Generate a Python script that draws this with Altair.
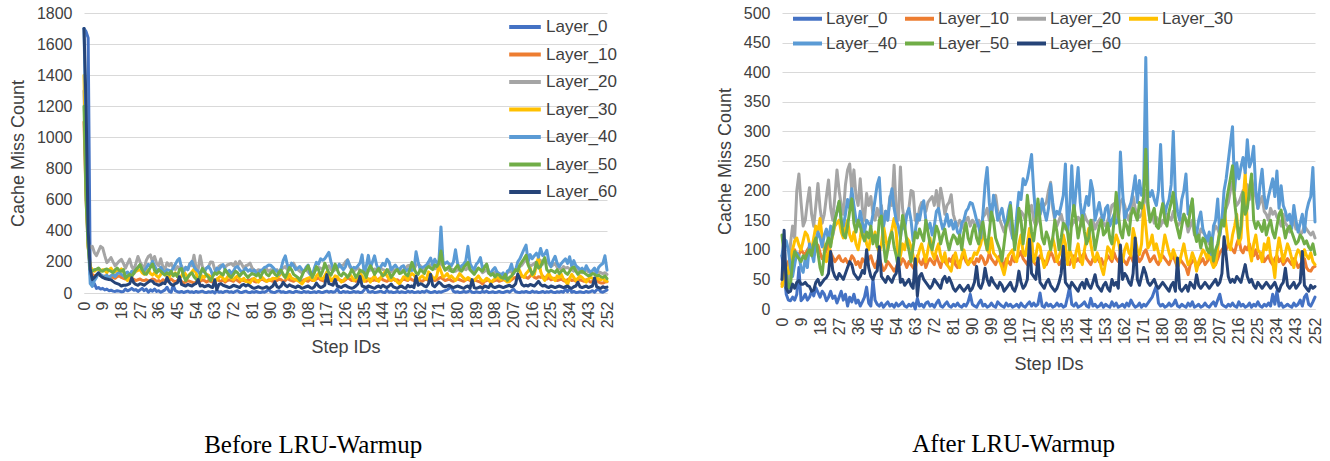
import altair as alt
import pandas as pd

STEPS = list(range(253))
LAYERS = ["Layer_0", "Layer_10", "Layer_20", "Layer_30", "Layer_40", "Layer_50", "Layer_60"]
COLORS = ["#4472C4", "#ED7D31", "#A5A5A5", "#FFC000", "#5B9BD5", "#70AD47", "#264478"]
X_TICKS = list(range(0, 253, 9))

# ---------- After LRU-Warmup (steps 0..252) ----------
L0_AFTER = [
    90, 60, 25, 15, 14, 20, 15, 25, 70, 14,
    18, 25, 15, 20, 30, 22, 36, 28, 20, 30,
    25, 14, 20, 30, 18, 22, 10, 20, 30, 15,
    25, 5, 20, 12, 25, 10, 15, 5, 12, 20,
    37, 10, 5, 50, 15, 8, 5, 10, 3, 8,
    12, 5, 8, 3, 10, 5, 8, 12, 5, 3,
    8, 5, 10, 0, 18, 5, 8, 3, 10, 12,
    5, 8, 3, 10, 15, 5, 3, 8, 12, 5,
    3, 8, 5, 10, 5, 3, 8, 5, 12, 25,
    8, 5, 3, 10, 15, 5, 8, 3, 5, 10,
    5, 3, 12, 8, 5, 3, 10, 5, 8, 3,
    5, 8, 3, 10, 5, 3, 8, 12, 5, 10,
    5, 8, 27, 5, 3, 10, 5, 8, 3, 5,
    10, 5, 8, 3, 5, 20, 37, 8, 5, 10,
    3, 5, 8, 12, 5, 3, 18, 5, 8, 3,
    5, 10, 3, 8, 5, 3, 12, 5, 10, 3,
    5, 8, 3, 10, 5, 15, 8, 3, 5, 10,
    3, 8, 5, 10, 15, 20, 30, 39, 10, 5,
    8, 3, 5, 10, 5, 8, 15, 5, 3, 8,
    5, 3, 10, 5, 12, 3, 5, 8, 3, 5,
    10, 5, 3, 8, 12, 5, 15, 25, 8, 5,
    3, 8, 5, 10, 5, 3, 12, 5, 8, 3,
    5, 10, 3, 8, 5, 12, 5, 3, 8, 5,
    10, 5, 25, 8, 30, 5, 10, 3, 5, 8,
    5, 3, 10, 5, 8, 15, 5, 20, 25, 8,
    5, 12, 20,
]
L10_AFTER = [
    42, 60, 70, 80, 85, 95, 100, 90, 92, 100,
    95, 92, 100, 105, 95, 90, 100, 108, 95, 85,
    90, 100, 110, 95, 88, 80, 85, 90, 82, 80,
    85, 78, 80, 90, 85, 75, 80, 70, 85, 80,
    75, 85, 90, 78, 70, 80, 85, 75, 65, 70,
    80, 75, 70, 64, 70, 80, 75, 85, 80, 70,
    80, 75, 70, 65, 90, 80, 75, 85, 70, 80,
    85, 80, 75, 90, 80, 70, 85, 80, 75, 85,
    80, 90, 75, 70, 80, 85, 90, 80, 75, 85,
    80, 75, 85, 80, 90, 85, 75, 80, 95, 85,
    80, 75, 85, 90, 80, 70, 85, 80, 75, 90,
    80, 85, 90, 97, 85, 80, 75, 90, 85, 80,
    75, 80, 90, 85, 80, 75, 85, 97, 90, 80,
    85, 75, 80, 90, 85, 80, 75, 85, 90, 80,
    85, 80, 90, 95, 85, 80, 75, 85, 80, 90,
    80, 85, 75, 80, 90, 85, 80, 95, 85, 80,
    90, 85, 80, 75, 85, 90, 80, 85, 90, 80,
    85, 95, 100, 90, 80, 85, 90, 80, 75, 85,
    90, 85, 80, 75, 85, 90, 80, 70, 85, 80,
    75, 70, 58, 75, 80, 85, 70, 75, 80, 85,
    75, 80, 85, 90, 80, 75, 85, 95, 100, 105,
    100, 110, 105, 100, 95, 110, 120, 100, 95, 105,
    100, 110, 95, 90, 100, 85, 90, 95, 80, 85,
    90, 80, 75, 85, 90, 80, 85, 75, 80, 85,
    80, 75, 85, 80, 70, 75, 80, 85, 70, 65,
    64, 70, 72,
]
L20_AFTER = [
    50, 40, 55, 45, 110, 140, 120, 200, 228, 180,
    140, 150, 180, 205, 160, 140, 175, 212, 170, 145,
    160, 190, 218, 170, 150, 190, 235, 200, 175, 160,
    210, 235, 245, 200, 235, 190, 175, 220, 170, 150,
    195, 175, 190, 160, 150, 170, 155, 175, 140, 165,
    150, 190, 175, 243, 165, 150, 240, 170, 145, 160,
    170, 200, 198, 150, 145, 170, 180, 175, 165, 180,
    185, 190, 175, 200, 170, 204, 185, 160, 175, 180,
    193, 160, 147, 140, 150, 145, 135, 150, 155, 140,
    150, 145, 140, 150, 135, 155, 160, 170, 150, 175,
    180, 192, 165, 150, 140, 130, 145, 150, 135, 120,
    125, 140, 150, 165, 160, 150, 170, 165, 175, 150,
    140, 150, 160, 170, 175, 180, 200, 214, 170, 150,
    140, 150, 160, 145, 135, 150, 145, 140, 150, 145,
    155, 150, 140, 160, 150, 145, 140, 150, 135, 145,
    150, 155, 145, 140, 150, 160, 175, 178, 165, 150,
    180, 186, 175, 160, 150, 165, 190, 170, 160, 155,
    160, 175, 200, 170, 150, 160, 145, 155, 150, 140,
    150, 145, 160, 155, 150, 165, 150, 140, 145, 150,
    160, 150, 130, 140, 150, 125, 130, 120, 135, 130,
    125, 120, 110, 115, 130, 140, 135, 125, 150, 160,
    170, 180, 200, 215, 190, 175, 180, 190, 200, 195,
    210, 185, 220, 200, 189, 170, 180, 190, 165, 160,
    150, 170, 160, 165, 155, 150, 140, 160, 145, 140,
    130, 140, 150, 135, 140, 125, 130, 140, 135, 130,
    125, 130, 120,
]
L30_AFTER = [
    38, 55, 70, 60, 85, 100, 115, 120, 108, 100,
    115, 130, 125, 110, 100, 120, 140, 130, 153, 120,
    100, 80, 95, 110, 125, 140, 145, 150, 130, 120,
    140, 150, 125, 115, 130, 110, 100, 120, 147, 130,
    110, 100, 125, 115, 130, 105, 95, 110, 140, 120,
    100, 120, 135, 153, 130, 75, 90, 110, 100, 120,
    115, 105, 90, 70, 85, 100, 110, 95, 80, 100,
    120, 95, 85, 100, 110, 90, 80, 95, 75, 70,
    64, 85, 95, 80, 70, 90, 100, 85, 75, 80,
    85, 95, 92, 100, 110, 130, 115, 100, 95, 120,
    95, 90, 85, 80, 70, 58, 75, 90, 95, 100,
    85, 80, 110, 125, 95, 90, 110, 136, 120, 80,
    90, 110, 105, 85, 70, 80, 95, 100, 120, 105,
    80, 90, 100, 125, 110, 75, 100, 90, 70, 95,
    110, 85, 75, 100, 120, 136, 110, 90, 80, 95,
    85, 70, 58, 80, 105, 100, 85, 110, 125, 115,
    95, 80, 100, 110, 95, 90, 136, 120, 100, 92,
    110, 175, 140, 103, 110, 125, 100, 110, 95, 81,
    100, 125, 110, 95, 85, 100, 90, 70, 80, 95,
    110, 90, 75, 80, 95, 85, 64, 80, 90, 100,
    95, 85, 100, 80, 70, 75, 100, 136, 150, 170,
    140, 110, 100, 125, 140, 160, 110, 120, 180, 231,
    140, 100, 81, 110, 125, 100, 95, 80, 110, 100,
    120, 90, 80, 53, 95, 120, 100, 80, 95, 110,
    100, 85, 70, 90, 100, 95, 80, 100, 90, 85,
    95, 80, 75,
]
L40_AFTER = [
    90, 118, 115, 100, 70, 55, 75, 95, 90, 70,
    62, 85, 70, 110, 95, 80, 115, 130, 120, 105,
    125, 135, 115, 140, 125, 150, 165, 180, 150, 140,
    160, 185, 170, 203, 175, 150, 140, 165, 145, 130,
    150, 145, 140, 160, 185, 210, 222, 160, 140, 165,
    150, 185, 203, 170, 150, 140, 120, 150, 135, 160,
    170, 150, 115, 130, 160, 150, 170, 183, 150, 135,
    145, 125, 140, 165, 170, 150, 135, 145, 160, 140,
    150, 135, 147, 130, 125, 145, 150, 165, 170, 180,
    178, 165, 150, 140, 120, 160, 210, 239, 180, 150,
    192, 175, 150, 160, 170, 150, 140, 165, 180, 120,
    114, 160, 197, 185, 220, 210, 220, 240, 261, 200,
    155, 170, 160, 186, 165, 150, 170, 211, 180, 155,
    165, 160, 175, 192, 245, 130, 170, 242, 160, 200,
    239, 180, 150, 170, 190, 175, 217, 200, 150, 165,
    180, 160, 150, 170, 175, 140, 150, 160, 145, 150,
    265, 200, 150, 165, 170, 180, 200, 225, 180, 217,
    192, 205, 425, 200, 190, 200, 185, 175, 200, 278,
    190, 160, 175, 185, 210, 300, 190, 165, 150, 185,
    200, 228, 160, 170, 183, 140, 125, 150, 164, 135,
    125, 115, 130, 92, 140, 150, 186, 125, 150, 200,
    220, 250, 280, 308, 200, 247, 220, 240, 256, 230,
    286, 240, 250, 275, 200, 170, 210, 236, 190, 170,
    190, 205, 220, 190, 233, 170, 208, 175, 165, 150,
    160, 136, 175, 150, 130, 145, 160, 130, 165, 180,
    190, 239, 147,
]
L50_AFTER = [
    125, 90, 60, 35, 40, 80, 97, 90, 85, 80,
    90, 85, 95, 100, 90, 110, 120, 95, 70, 58,
    95, 110, 120, 105, 130, 150, 165, 182, 150, 125,
    120, 140, 165, 186, 145, 130, 150, 140, 125, 115,
    130, 120, 140, 110, 125, 105, 150, 157, 110, 80,
    100, 120, 130, 105, 90, 69, 120, 158, 140, 115,
    100, 80, 105, 130, 120, 135, 125, 115, 150, 130,
    110, 100, 120, 140, 130, 110, 125, 135, 115, 100,
    115, 125, 120, 110, 125, 100, 130, 145, 120, 110,
    130, 142, 120, 110, 135, 147, 120, 100, 130, 164,
    150, 120, 110, 100, 81, 110, 140, 150, 175, 140,
    100, 130, 170, 150, 110, 140, 192, 160, 130, 115,
    145, 186, 150, 120, 110, 130, 120, 100, 120, 150,
    130, 100, 120, 145, 140, 130, 100, 150, 175, 150,
    120, 140, 158, 130, 110, 120, 150, 130, 100, 120,
    140, 150, 125, 130, 145, 120, 110, 150, 197, 160,
    130, 120, 150, 140, 125, 158, 170, 160, 150, 180,
    170, 190, 270, 180, 147, 160, 170, 140, 136, 160,
    178, 150, 140, 165, 180, 197, 150, 135, 120, 140,
    160, 150, 140, 165, 186, 130, 114, 125, 103, 120,
    115, 100, 95, 120, 81, 100, 110, 130, 150, 140,
    180, 200, 220, 242, 180, 150, 120, 140, 197, 160,
    170, 200, 228, 150, 136, 147, 140, 131, 150, 125,
    140, 150, 130, 120, 140, 160, 167, 140, 120, 135,
    140, 130, 120, 110, 114, 125, 120, 110, 115, 105,
    100, 110, 92,
]
L60_AFTER = [
    50, 133, 35, 28, 30, 42, 35, 45, 48, 42,
    42, 45, 40, 38, 30, 32, 45, 50, 40, 45,
    50, 53, 60, 97, 65, 55, 50, 60, 55, 50,
    60, 70, 80, 75, 60, 55, 50, 55, 65, 60,
    100, 70, 55, 50, 60, 65, 105, 55, 50, 45,
    55, 50, 45, 55, 60, 86, 45, 50, 40, 45,
    50, 40, 35, 85, 22, 55, 60, 50, 45, 40,
    35, 40, 50, 45, 40, 35, 50, 55, 45, 53,
    45, 35, 30, 35, 40, 35, 30, 35, 40, 30,
    35, 45, 72, 40, 35, 45, 69, 50, 40, 53,
    45, 40, 35, 45, 40, 30, 35, 40, 45, 35,
    30, 40, 64, 45, 35, 40, 50, 118, 60, 55,
    50, 86, 45, 40, 35, 45, 50, 40, 35, 30,
    35, 45, 60, 106, 45, 40, 35, 45, 40, 35,
    30, 40, 45, 35, 50, 40, 35, 45, 58, 40,
    35, 30, 40, 45, 35, 30, 50, 40, 45, 35,
    108, 50, 60, 55, 45, 40, 60, 120, 50, 40,
    55, 70, 60, 45, 40, 45, 50, 40, 35, 40,
    45, 40, 35, 30, 40, 45, 30, 86, 35, 30,
    35, 40, 30, 45, 40, 35, 58, 40, 35, 40,
    45, 40, 35, 40, 45, 50, 40, 45, 60, 122,
    90, 55, 45, 50, 45, 55, 50, 45, 60, 75,
    55, 45, 50, 40, 35, 45, 40, 35, 40, 45,
    40, 35, 40, 45, 35, 30, 40, 45, 69, 40,
    35, 40, 45, 35, 40, 45, 97, 40, 35, 30,
    40, 35, 38,
]

# ---------- Before LRU-Warmup: first 20 steps differ, later steps follow the same trace ----------
L0_BEFORE_HEAD = [1700, 1680, 1640, 120, 45, 60, 30, 35, 25, 30, 20, 25, 15, 18, 12, 10, 15, 12, 8, 10]
L10_BEFORE_HEAD = [1100, 600, 300, 150, 120, 110, 115, 120, 110, 105, 110, 100, 105, 110, 100, 95, 105, 110, 100, 95]
L20_BEFORE_HEAD = [1300, 700, 320, 290, 300, 260, 240, 270, 300, 290, 240, 195, 210, 228, 200, 174, 190, 205, 217, 190]
L30_BEFORE_HEAD = [1400, 700, 300, 170, 150, 140, 150, 155, 140, 150, 145, 130, 150, 160, 140, 135, 150, 140, 155, 140]
L40_BEFORE_HEAD = [1700, 1000, 350, 60, 43, 80, 100, 130, 120, 110, 100, 115, 95, 110, 120, 105, 125, 130, 120, 110]
L50_BEFORE_HEAD = [1200, 600, 300, 150, 141, 150, 152, 160, 145, 140, 150, 155, 145, 140, 130, 150, 160, 145, 140, 150]
L60_BEFORE_HEAD = [1700, 1200, 400, 150, 87, 100, 115, 130, 110, 100, 93, 90, 87, 85, 75, 65, 60, 55, 45, 50]

AFTER = [L0_AFTER, L10_AFTER, L20_AFTER, L30_AFTER, L40_AFTER, L50_AFTER, L60_AFTER]
BEFORE_HEADS = [L0_BEFORE_HEAD, L10_BEFORE_HEAD, L20_BEFORE_HEAD, L30_BEFORE_HEAD,
                L40_BEFORE_HEAD, L50_BEFORE_HEAD, L60_BEFORE_HEAD]
BEFORE = [h + a[len(h):] for h, a in zip(BEFORE_HEADS, AFTER)]

for s in AFTER + BEFORE:
    assert len(s) == len(STEPS), len(s)


def long_df(series_list):
    rows = []
    for i, (name, vals) in enumerate(zip(LAYERS, series_list)):
        for st, v in zip(STEPS, vals):
            rows.append({"step": st, "value": v, "layer": name, "k": i})
    return pd.DataFrame(rows)


TXT = "#404040"


def panel(df, w, h, ymax, ystep, legend, caption, cap_offset, cap_dx, x_title_pad):
    return alt.Chart(df, title=alt.TitleParams(
        text=caption, orient="bottom", anchor="middle", frame="bounds", offset=cap_offset,
        dx=cap_dx, font="Liberation Serif", fontSize=25, fontWeight="normal", color="#000000",
    )).mark_line(strokeWidth=3, strokeJoin="round", strokeCap="round").encode(
        x=alt.X("step:Q", scale=alt.Scale(domain=[0, 252], nice=False, zero=False),
                axis=alt.Axis(values=X_TICKS, labelAngle=270, title="Step IDs", grid=False,
                              ticks=False, domainColor="#D9D9D9", labelFlush=False,
                              labelOverlap=False, labelPadding=8, titlePadding=x_title_pad)),
        y=alt.Y("value:Q", scale=alt.Scale(domain=[0, ymax], nice=False),
                axis=alt.Axis(values=list(range(0, ymax + 1, ystep)), title="Cache Miss Count",
                              format="d", domain=False, ticks=False, gridColor="#D9D9D9",
                              labelPadding=12, titlePadding=9)),
        color=alt.Color("layer:N", scale=alt.Scale(domain=LAYERS, range=COLORS), legend=legend),
        detail="k:O",
    ).properties(width=w, height=h)


left_legend = alt.Legend(orient="none", legendX=423, legendY=-4, title=None, symbolType="stroke",
                         symbolStrokeWidth=4, symbolSize=1000, labelFontSize=17, labelColor=TXT,
                         labelOffset=3, rowPadding=1.5, columns=1, direction="vertical")
right_legend = alt.Legend(orient="none", legendX=9, legendY=-11, title=None, symbolType="stroke",
                          symbolStrokeWidth=4, symbolSize=841, labelFontSize=17, labelColor=TXT,
                          labelOffset=2, rowPadding=0, columnPadding=0, columns=4,
                          direction="horizontal")

left = panel(long_df(BEFORE), 523, 280, 1800, 200, left_legend, "Before LRU-Warmup", 76, 0, 11)
right = panel(long_df(AFTER), 533, 296, 500, 50, right_legend, "After LRU-Warmup", 58, -6, 12)

chart = alt.hconcat(left, right, spacing=99).resolve_scale(color="independent").resolve_legend(
    color="independent"
).properties(
    padding={"left": 9, "top": 2, "right": 5, "bottom": 5},
    background="white",
).configure_view(stroke=None).configure_axis(
    labelFont="Liberation Sans", titleFont="Liberation Sans", labelFontSize=16,
    titleFontSize=18, titleFontWeight="normal", labelColor=TXT, titleColor=TXT,
).configure_legend(labelFont="Liberation Sans")

chart.save("out.html", embed_options={"renderer": "svg", "actions": False})
